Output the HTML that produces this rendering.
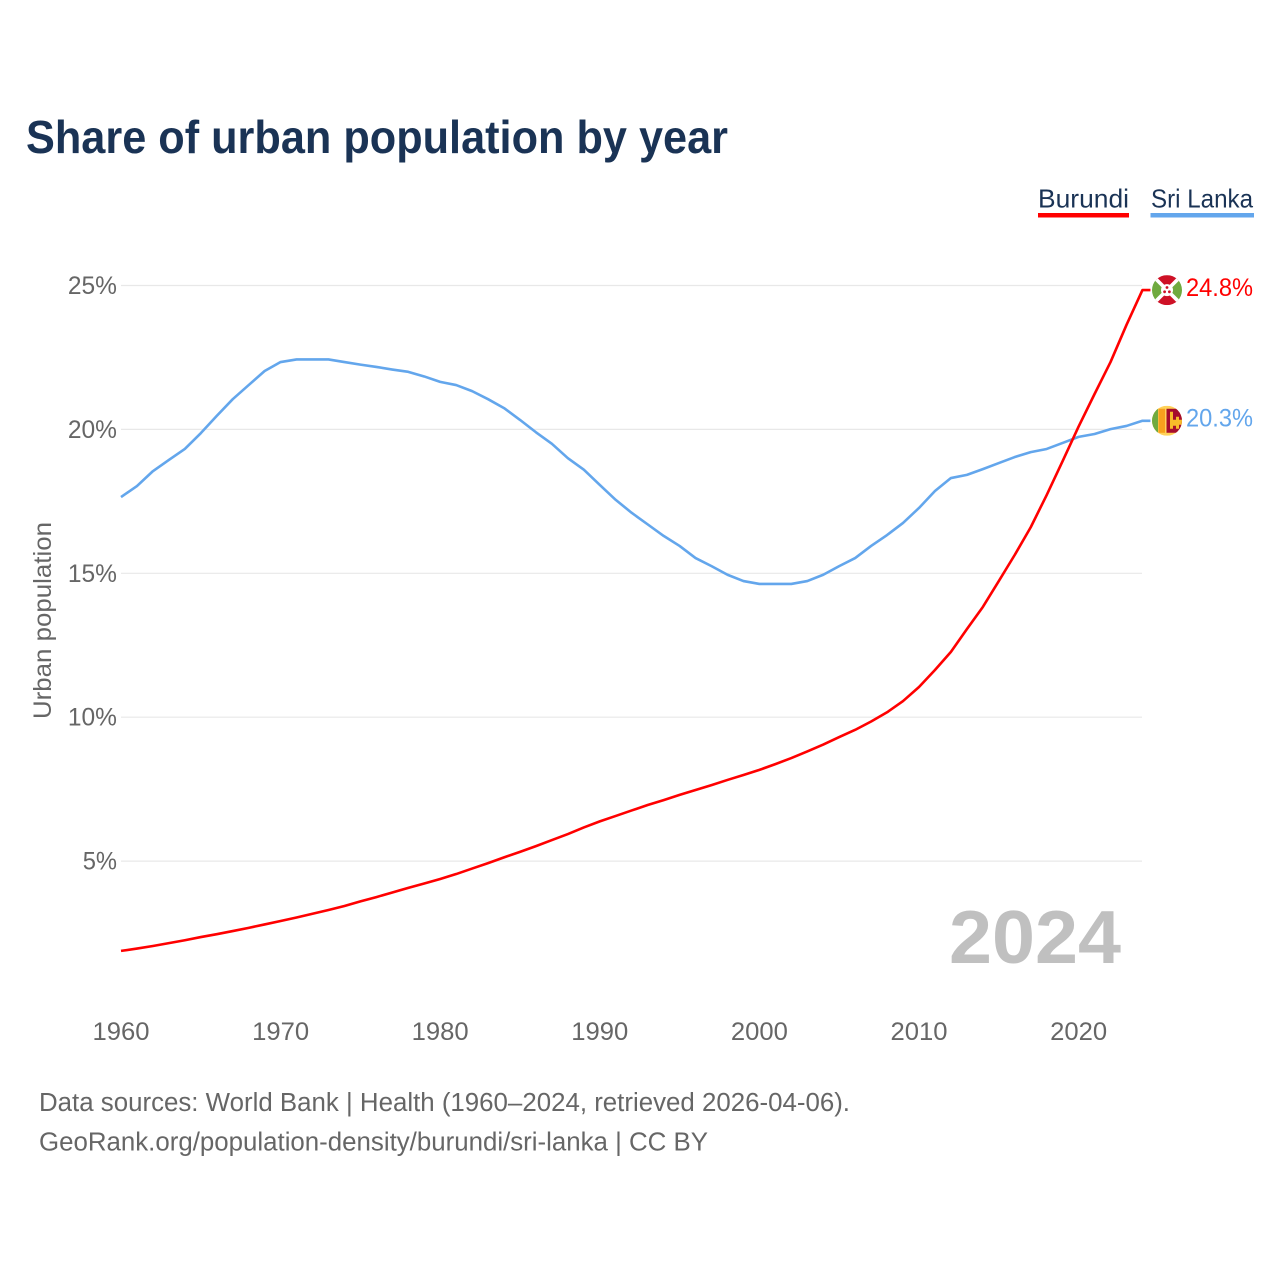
<!DOCTYPE html>
<html lang="en">
<head>
<meta charset="utf-8">
<title>Share of urban population by year</title>
<style>
html,body{margin:0;padding:0;background:#fff;width:1280px;height:1280px;overflow:hidden}
svg{display:block;font-family:"Liberation Sans",sans-serif}
</style>
</head>
<body>
<svg id="chart" xmlns="http://www.w3.org/2000/svg" width="1280" height="1280" viewBox="0 0 1280 1280">
  <defs>
    <clipPath id="flag-clip-bi"><circle cx="0" cy="0" r="15"/></clipPath>
    <clipPath id="flag-clip-lk"><circle cx="0" cy="0" r="15"/></clipPath>
  </defs>
  <rect x="0" y="0" width="1280" height="1280" fill="#ffffff"/>
  <text x="26" y="153" font-size="46" font-weight="700" fill="#1a3355" textLength="702" lengthAdjust="spacingAndGlyphs">Share of urban population by year</text>

  <g>
    <g>
      <text x="1038" y="207.5" font-size="26" fill="#1a3355" textLength="91" lengthAdjust="spacingAndGlyphs">Burundi</text>
      <rect x="1038" y="213" width="91" height="4.5" fill="#ff0000"/>
    </g>
    <g>
      <text x="1151" y="207.5" font-size="26" fill="#1a3355" textLength="102" lengthAdjust="spacingAndGlyphs">Sri Lanka</text>
      <rect x="1150.5" y="213" width="103.5" height="4.5" fill="#63a6ec"/>
    </g>
  </g>

  <g id="grid"></g>
  <g id="y-axis"></g>
  <g id="x-axis"></g>
  <text transform="translate(51,719) rotate(-90)" x="0" y="0" font-size="25" fill="#666666" textLength="197" lengthAdjust="spacingAndGlyphs">Urban population</text>
  <text id="year-watermark" x="949" y="963" font-size="75" font-weight="700" fill="#c0c0c0" textLength="172" lengthAdjust="spacingAndGlyphs"></text>
  <g id="series"></g>

  <g id="flag-burundi">
    <g clip-path="url(#flag-clip-bi)">
      <rect x="-15" y="-15" width="30" height="30" fill="#ffffff"/>
      <polygon points="-15,-15 15,-15 0,0" fill="#ce1126"/>
      <polygon points="-15,15 15,15 0,0" fill="#ce1126"/>
      <polygon points="-15,-15 -15,15 0,0" fill="#6faa3f"/>
      <polygon points="15,-15 15,15 0,0" fill="#6faa3f"/>
      <line x1="-15" y1="-15" x2="15" y2="15" stroke="#ffffff" stroke-width="3.6"/>
      <line x1="15" y1="-15" x2="-15" y2="15" stroke="#ffffff" stroke-width="3.6"/>
      <circle cx="0" cy="0" r="6" fill="#ffffff"/>
      <circle cx="0" cy="-2.6" r="1.4" fill="#ce1126"/>
      <circle cx="-2.4" cy="1.7" r="1.4" fill="#ce1126"/>
      <circle cx="2.4" cy="1.7" r="1.4" fill="#ce1126"/>
    </g>
  </g>
  <g id="flag-sri-lanka">
    <g clip-path="url(#flag-clip-lk)">
      <rect x="-15" y="-15" width="30" height="30" fill="#ffd25a"/>
      <rect x="-15" y="-12" width="6" height="24" fill="#6faa3f"/>
      <rect x="-8.5" y="-12" width="6.5" height="24" fill="#f7a11d"/>
      <rect x="-0.5" y="-12" width="15.5" height="24" fill="#a50d2d"/>
      <polygon points="3,-9 6,-9 6,-1 9,-1 9,-4 12,-4 12,-1 15,-1 15,4 12,4 12,8 9,8 9,5 6,5 6,8 3,8" fill="#f7bb2a"/>
    </g>
  </g>

  <text x="39" y="1111" font-size="25.5" fill="#666666" textLength="811" lengthAdjust="spacingAndGlyphs">Data sources: World Bank | Health (1960–2024, retrieved 2026-04-06).</text>
  <text x="39" y="1150.5" font-size="25.5" fill="#666666" textLength="669" lengthAdjust="spacingAndGlyphs">GeoRank.org/population-density/burundi/sri-lanka | CC BY</text>
</svg>

<script>
const years = [1960,1961,1962,1963,1964,1965,1966,1967,1968,1969,1970,1971,1972,1973,1974,1975,1976,1977,1978,1979,1980,1981,1982,1983,1984,1985,1986,1987,1988,1989,1990,1991,1992,1993,1994,1995,1996,1997,1998,1999,2000,2001,2002,2003,2004,2005,2006,2007,2008,2009,2010,2011,2012,2013,2014,2015,2016,2017,2018,2019,2020,2021,2022,2023,2024];
const burundiValues = [1.88,1.96,2.05,2.15,2.25,2.36,2.46,2.57,2.68,2.80,2.92,3.04,3.17,3.30,3.44,3.60,3.75,3.91,4.07,4.22,4.38,4.55,4.74,4.93,5.13,5.32,5.52,5.73,5.94,6.17,6.38,6.57,6.76,6.95,7.12,7.30,7.47,7.64,7.82,7.99,8.17,8.37,8.58,8.81,9.05,9.31,9.56,9.85,10.17,10.56,11.05,11.64,12.27,13.06,13.83,14.73,15.64,16.60,17.72,18.90,20.10,21.23,22.34,23.63,24.84];
const sriLankaValues = [17.65,18.03,18.55,18.94,19.32,19.87,20.47,21.05,21.54,22.03,22.34,22.43,22.43,22.43,22.34,22.25,22.17,22.08,22.00,21.84,21.65,21.54,21.33,21.05,20.74,20.33,19.90,19.50,19.00,18.60,18.07,17.55,17.10,16.70,16.30,15.95,15.53,15.25,14.95,14.73,14.63,14.63,14.63,14.73,14.95,15.25,15.53,15.95,16.33,16.75,17.27,17.86,18.31,18.42,18.62,18.83,19.04,19.21,19.32,19.53,19.74,19.84,20.01,20.12,20.30];
const yTickValues = [5,10,15,20,25];
const xTickYears = [1960,1970,1980,1990,2000,2010,2020];

const NS = 'http://www.w3.org/2000/svg';
const BURUNDI_COLOR = '#ff0000';
const SRI_LANKA_COLOR = '#63a6ec';
const xScale = function (year) { return 121 + (year - 1960) * 15.96; };
const yScale = function (value) { return 1005 - value * 28.78; };

function make(tag, parent, attrs, content) {
  const node = document.createElementNS(NS, tag);
  Object.keys(attrs).forEach(function (key) { node.setAttribute(key, attrs[key]); });
  if (content !== undefined) { node.textContent = content; }
  parent.appendChild(node);
  return node;
}

const gridGroup = document.getElementById('grid');
const yAxisGroup = document.getElementById('y-axis');
const xAxisGroup = document.getElementById('x-axis');
const seriesGroup = document.getElementById('series');

yTickValues.forEach(function (tick) {
  const gridLine = make('line', gridGroup, { x1: 121, x2: 1142, y1: yScale(tick), y2: yScale(tick), stroke: '#e8e8e8', 'stroke-width': 1.2 });
  
  
  const label = tick + '%';
  const tickLabel = make('text', yAxisGroup, { x: 117, y: yScale(tick) + 8.5, 'font-size': 25, fill: '#666666', 'text-anchor': 'end', textLength: (label.length - 1) * 14.8 + 19.5, lengthAdjust: 'spacingAndGlyphs' }, label);
  
  
});

xTickYears.forEach(function (year) {
  const tickLabel = make('text', xAxisGroup, { x: xScale(year), y: 1040, 'font-size': 25, fill: '#666666', 'text-anchor': 'middle', textLength: 57, lengthAdjust: 'spacingAndGlyphs' }, String(year));
  
  
});

function buildPath(values) {
  const parts = values.map(function (value, i) {
    return (i === 0 ? 'M' : 'L') + xScale(years[i]).toFixed(2) + ' ' + yScale(value).toFixed(2);
  });
  const last = values.length - 1;
  parts.push('L' + (xScale(years[last]) + 8).toFixed(2) + ' ' + yScale(values[last]).toFixed(2));
  return parts.join(' ');
}

const sriLankaLine = make('path', seriesGroup, { d: buildPath(sriLankaValues), fill: 'none', stroke: SRI_LANKA_COLOR, 'stroke-width': 2.6, 'stroke-linejoin': 'round' });



const burundiLine = make('path', seriesGroup, { d: buildPath(burundiValues), fill: 'none', stroke: BURUNDI_COLOR, 'stroke-width': 2.6, 'stroke-linejoin': 'round' });



const lastIndex = years.length - 1;
document.getElementById('year-watermark').textContent = String(years[lastIndex]);

const burundiEnd = burundiValues[lastIndex];
const sriLankaEnd = sriLankaValues[lastIndex];
document.getElementById('flag-burundi').setAttribute('transform', 'translate(1167,' + yScale(burundiEnd).toFixed(2) + ')');
document.getElementById('flag-sri-lanka').setAttribute('transform', 'translate(1167,' + yScale(sriLankaEnd).toFixed(2) + ')');

const burundiLabel = make('text', seriesGroup, { x: 1186, y: yScale(burundiEnd) + 6, 'font-size': 25, fill: BURUNDI_COLOR, textLength: 67, lengthAdjust: 'spacingAndGlyphs' }, burundiEnd.toFixed(1) + '%');



const sriLankaLabel = make('text', seriesGroup, { x: 1186, y: yScale(sriLankaEnd) + 5.5, 'font-size': 25, fill: SRI_LANKA_COLOR, textLength: 67, lengthAdjust: 'spacingAndGlyphs' }, sriLankaEnd.toFixed(1) + '%');


</script>
</body>
</html>
